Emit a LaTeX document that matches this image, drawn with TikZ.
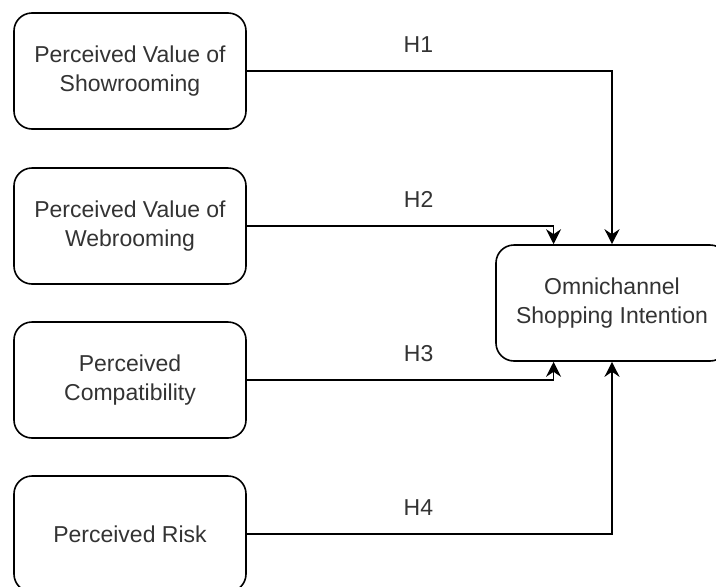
\documentclass[tikz,border=0pt]{standalone}
\usepackage{fontspec}
\setmainfont{Liberation Sans}
\usetikzlibrary{arrows.meta}
\usetikzlibrary{calc}

\begin{document}
\begin{tikzpicture}[x=1pt,y=-1pt,>/.tip={Stealth[length=15pt,width=15pt,inset=5pt]},line width=1.6pt,
	font=\fontsize{23}{29}\selectfont,
	construct/.style={shape=rectangle,draw,rounded corners=18pt,minimum height=116pt,minimum width=232pt,align=center,text=black!80}]
	\useasboundingbox (0,0) rectangle (716,587);
	\draw (130,71) node (showroom) [construct] {Perceived Value of\\Showrooming};
	\draw (130,226) node (webroom) [construct] {Perceived Value of\\Webrooming};
	\draw (130,380) node (compat) [construct] {Perceived\\Compatibility};
	\draw (130,534) node (risk) [construct] {Perceived Risk};
	\draw (612,303) node (intent) [construct] {Omnichannel\\Shopping Intention};
	\draw[->] (showroom.east) -| node [pos=0.235,above=14pt,text=black!80] {H1} (intent.north);
	\draw[->] (webroom.east) -| node [pos=0.28,above=14pt,text=black!80] {H2} ($(intent.north west)!0.25!(intent.north east)$);
	\draw[->] (compat.east) -| node [pos=0.28,above=14pt,text=black!80] {H3} ($(intent.south west)!0.25!(intent.south east)$);
	\draw[->] (risk.east) -| node [pos=0.235,above=14pt,text=black!80] {H4} (intent.south);
\end{tikzpicture}
\end{document}
